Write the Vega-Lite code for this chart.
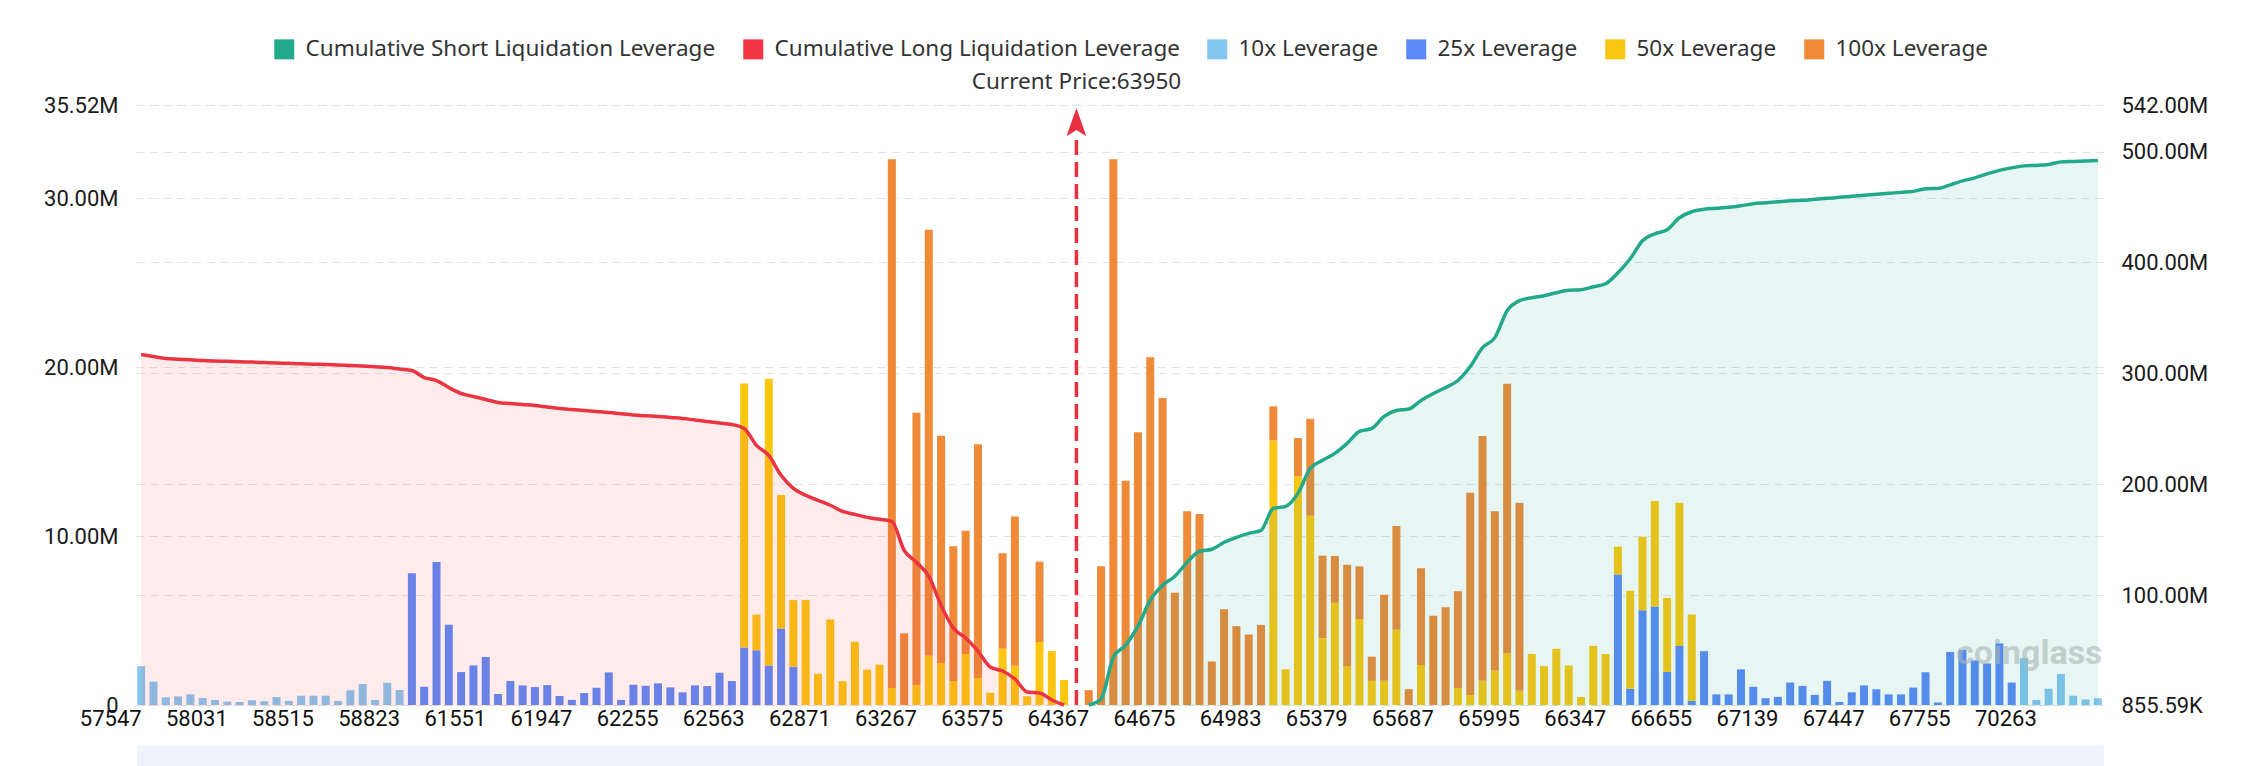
{
  "$schema": "https://vega.github.io/schema/vega-lite/v6.json",
  "width": 1969,
  "height": 600,
  "autosize": "none",
  "padding": {"left": 135, "top": 105, "right": 152, "bottom": 61},
  "background": "white",
  "config": {
    "view": {"stroke": null},
    "font": "Roboto",
    "axis": {
      "labelFont": "Roboto",
      "labelFontSize": 22,
      "labelColor": "#1a1a1a",
      "domain": false,
      "ticks": false,
      "title": null,
      "gridColor": "#e4e4e4",
      "gridDash": [8, 6],
      "gridWidth": 1.2
    }
  },
  "datasets": {
    "bars": [
      {"p":"57547","l":10,"v":2.3},{"p":"57591","l":10,"v":1.38},{"p":"57635","l":10,"v":0.45},{"p":"57723","l":10,"v":0.51},
      {"p":"57811","l":10,"v":0.63},{"p":"57899","l":10,"v":0.41},{"p":"57987","l":10,"v":0.3},{"p":"58031","l":10,"v":0.2},
      {"p":"58075","l":10,"v":0.18},{"p":"58163","l":10,"v":0.28},{"p":"58251","l":10,"v":0.22},{"p":"58339","l":10,"v":0.47},
      {"p":"58383","l":10,"v":0.24},{"p":"58471","l":10,"v":0.55},{"p":"58515","l":10,"v":0.55},{"p":"58559","l":10,"v":0.55},
      {"p":"58603","l":10,"v":0.24},{"p":"58647","l":10,"v":0.87},{"p":"58691","l":10,"v":1.24},{"p":"58735","l":10,"v":0.3},
      {"p":"58779","l":10,"v":1.32},{"p":"58823","l":10,"v":0.89},
      {"p":"58867","l":25,"v":7.8},{"p":"58999","l":25,"v":1.08},{"p":"59439","l":25,"v":8.47},{"p":"60319","l":25,"v":4.75},
      {"p":"60979","l":25,"v":1.95},{"p":"61463","l":25,"v":2.34},{"p":"61551","l":25,"v":2.84},{"p":"61595","l":25,"v":0.65},
      {"p":"61639","l":25,"v":1.42},{"p":"61727","l":25,"v":1.16},{"p":"61771","l":25,"v":1.06},{"p":"61859","l":25,"v":1.18},
      {"p":"61903","l":25,"v":0.53},{"p":"61947","l":25,"v":0.3},{"p":"61991","l":25,"v":0.71},{"p":"62035","l":25,"v":1.02},
      {"p":"62079","l":25,"v":1.93},{"p":"62123","l":25,"v":0.3},{"p":"62167","l":25,"v":1.2},{"p":"62211","l":25,"v":1.14},
      {"p":"62255","l":25,"v":1.28},{"p":"62299","l":25,"v":1.04},{"p":"62343","l":25,"v":0.75},{"p":"62387","l":25,"v":1.16},
      {"p":"62431","l":25,"v":1.12},{"p":"62475","l":25,"v":1.91},{"p":"62519","l":25,"v":1.42},
      {"p":"62563","l":25,"v":3.4},{"p":"62563","l":50,"v":15.64},
      {"p":"62607","l":25,"v":3.24},{"p":"62607","l":50,"v":2.11},
      {"p":"62651","l":25,"v":2.34},{"p":"62651","l":50,"v":16.98},
      {"p":"62695","l":25,"v":4.53},{"p":"62695","l":50,"v":7.9},
      {"p":"62739","l":25,"v":2.27},{"p":"62739","l":50,"v":3.94},
      {"p":"62783","l":50,"v":6.21},{"p":"62827","l":50,"v":1.85},{"p":"62871","l":50,"v":5.06},{"p":"62915","l":50,"v":1.41},
      {"p":"62959","l":50,"v":3.75},{"p":"63047","l":50,"v":2.09},{"p":"63135","l":50,"v":2.39},
      {"p":"63179","l":50,"v":1.01},{"p":"63179","l":100,"v":31.3},
      {"p":"63223","l":100,"v":4.24},
      {"p":"63267","l":50,"v":1.17},{"p":"63267","l":100,"v":16.13},
      {"p":"63311","l":50,"v":2.91},{"p":"63311","l":100,"v":25.23},
      {"p":"63355","l":50,"v":2.49},{"p":"63355","l":100,"v":13.45},
      {"p":"63399","l":50,"v":1.41},{"p":"63399","l":100,"v":7.99},
      {"p":"63443","l":50,"v":3.02},{"p":"63443","l":100,"v":7.3},
      {"p":"63487","l":50,"v":1.59},{"p":"63487","l":100,"v":13.84},
      {"p":"63531","l":50,"v":0.73},
      {"p":"63575","l":50,"v":3.33},{"p":"63575","l":100,"v":5.65},
      {"p":"63619","l":50,"v":2.32},{"p":"63619","l":100,"v":8.84},
      {"p":"63663","l":50,"v":0.52},
      {"p":"63707","l":50,"v":3.73},{"p":"63707","l":100,"v":4.76},
      {"p":"63751","l":50,"v":3.19},{"p":"63795","l":50,"v":1.48},
      {"p":"64367","l":100,"v":0.88},{"p":"64411","l":100,"v":8.21},{"p":"64455","l":100,"v":32.31},{"p":"64499","l":100,"v":13.27},
      {"p":"64543","l":100,"v":16.15},{"p":"64587","l":100,"v":20.59},{"p":"64631","l":100,"v":18.17},{"p":"64675","l":100,"v":6.64},
      {"p":"64719","l":100,"v":11.47},{"p":"64763","l":100,"v":11.3},{"p":"64807","l":100,"v":2.58},{"p":"64851","l":100,"v":5.67},
      {"p":"64895","l":100,"v":4.67},{"p":"64939","l":100,"v":4.17},{"p":"64983","l":100,"v":4.74},
      {"p":"65027","l":50,"v":15.66},{"p":"65027","l":100,"v":2.02},
      {"p":"65071","l":50,"v":2.11},
      {"p":"65159","l":50,"v":13.53},{"p":"65159","l":100,"v":2.27},
      {"p":"65203","l":50,"v":11.21},{"p":"65203","l":100,"v":5.74},
      {"p":"65291","l":50,"v":3.96},{"p":"65291","l":100,"v":4.88},
      {"p":"65335","l":50,"v":6.05},{"p":"65335","l":100,"v":2.77},
      {"p":"65379","l":50,"v":2.3},{"p":"65379","l":100,"v":6.0},
      {"p":"65423","l":50,"v":5.09},{"p":"65423","l":100,"v":3.12},
      {"p":"65467","l":50,"v":1.43},{"p":"65467","l":100,"v":1.43},
      {"p":"65511","l":50,"v":1.43},{"p":"65511","l":100,"v":5.09},
      {"p":"65555","l":50,"v":4.45},{"p":"65555","l":100,"v":6.15},
      {"p":"65599","l":100,"v":0.94},
      {"p":"65643","l":50,"v":2.37},{"p":"65643","l":100,"v":5.72},
      {"p":"65687","l":100,"v":5.28},{"p":"65731","l":100,"v":5.79},
      {"p":"65775","l":50,"v":1.01},{"p":"65775","l":100,"v":5.72},
      {"p":"65819","l":50,"v":0.59},{"p":"65819","l":100,"v":11.98},
      {"p":"65863","l":50,"v":1.43},{"p":"65863","l":100,"v":14.49},
      {"p":"65907","l":50,"v":2.04},{"p":"65907","l":100,"v":9.43},
      {"p":"65951","l":50,"v":3.05},{"p":"65951","l":100,"v":15.97},
      {"p":"65995","l":50,"v":0.84},{"p":"65995","l":100,"v":11.14},
      {"p":"66039","l":50,"v":3.02},{"p":"66083","l":50,"v":2.3},{"p":"66127","l":50,"v":3.33},{"p":"66215","l":50,"v":2.34},
      {"p":"66259","l":50,"v":0.47},{"p":"66303","l":50,"v":3.5},{"p":"66347","l":50,"v":3.02},
      {"p":"66391","l":25,"v":7.72},{"p":"66391","l":50,"v":1.66},
      {"p":"66435","l":25,"v":0.96},{"p":"66435","l":50,"v":5.8},
      {"p":"66479","l":25,"v":5.61},{"p":"66479","l":50,"v":4.35},
      {"p":"66523","l":25,"v":5.83},{"p":"66523","l":50,"v":6.24},
      {"p":"66567","l":25,"v":1.96},{"p":"66567","l":50,"v":4.38},
      {"p":"66611","l":25,"v":3.5},{"p":"66611","l":50,"v":8.47},
      {"p":"66655","l":25,"v":0.25},{"p":"66655","l":50,"v":5.11},
      {"p":"66699","l":25,"v":3.19},{"p":"66787","l":25,"v":0.63},{"p":"66875","l":25,"v":0.63},{"p":"66963","l":25,"v":2.11},
      {"p":"67051","l":25,"v":1.08},{"p":"67095","l":25,"v":0.4},{"p":"67139","l":25,"v":0.48},{"p":"67183","l":25,"v":1.33},
      {"p":"67227","l":25,"v":1.13},{"p":"67271","l":25,"v":0.6},{"p":"67315","l":25,"v":1.43},{"p":"67359","l":25,"v":0.18},
      {"p":"67403","l":25,"v":0.75},{"p":"67447","l":25,"v":1.16},{"p":"67491","l":25,"v":0.93},{"p":"67535","l":25,"v":0.63},
      {"p":"67579","l":25,"v":0.63},{"p":"67623","l":25,"v":1.03},{"p":"67667","l":25,"v":1.94},{"p":"67711","l":25,"v":0.15},
      {"p":"67755","l":25,"v":3.14},{"p":"67799","l":25,"v":3.27},{"p":"67843","l":25,"v":2.64},{"p":"67975","l":25,"v":2.46},
      {"p":"68415","l":25,"v":3.65},{"p":"69031","l":25,"v":1.33},
      {"p":"69691","l":10,"v":2.77},{"p":"70263","l":10,"v":0.3},{"p":"70307","l":10,"v":0.96},{"p":"70351","l":10,"v":1.84},
      {"p":"70395","l":10,"v":0.55},{"p":"70439","l":10,"v":0.33},{"p":"70483","l":10,"v":0.4}
    ],
    "longCum": [
      {"p":"57547","v":316.9},{"p":"57591","v":315.1},{"p":"57635","v":313.3},{"p":"57723","v":312.7},{"p":"57811","v":312.2},
      {"p":"57899","v":311.5},{"p":"57987","v":311.1},{"p":"58031","v":310.8},{"p":"58075","v":310.4},{"p":"58163","v":310.1},
      {"p":"58251","v":309.7},{"p":"58339","v":309.3},{"p":"58383","v":309.0},{"p":"58471","v":308.6},{"p":"58515","v":308.2},
      {"p":"58559","v":307.9},{"p":"58603","v":307.4},{"p":"58647","v":307.0},{"p":"58691","v":306.5},{"p":"58735","v":305.9},
      {"p":"58779","v":305.2},{"p":"58823","v":303.8},{"p":"58867","v":302.5},{"p":"58999","v":296.2},{"p":"59439","v":293.5},
      {"p":"60319","v":287.2},{"p":"60979","v":281.8},{"p":"61463","v":279.1},{"p":"61551","v":276.4},{"p":"61595","v":273.7},
      {"p":"61639","v":272.8},{"p":"61727","v":271.9},{"p":"61771","v":271.0},{"p":"61859","v":269.6},{"p":"61903","v":268.3},
      {"p":"61947","v":267.4},{"p":"61991","v":266.5},{"p":"62035","v":265.6},{"p":"62079","v":264.7},{"p":"62123","v":263.5},
      {"p":"62167","v":262.4},{"p":"62211","v":261.7},{"p":"62255","v":261.1},{"p":"62299","v":260.2},{"p":"62343","v":259.3},
      {"p":"62387","v":257.9},{"p":"62431","v":256.6},{"p":"62475","v":255.2},{"p":"62519","v":253.9},{"p":"62563","v":250.3},
      {"p":"62607","v":235.0},{"p":"62651","v":226.0},{"p":"62695","v":208.0},{"p":"62739","v":196.2},{"p":"62783","v":190.0},
      {"p":"62827","v":185.4},{"p":"62871","v":181.0},{"p":"62915","v":175.5},{"p":"62959","v":172.8},{"p":"63047","v":170.1},
      {"p":"63135","v":168.3},{"p":"63179","v":166.5},{"p":"63223","v":140.4},{"p":"63267","v":129.6},{"p":"63311","v":117.0},
      {"p":"63355","v":90.9},{"p":"63399","v":70.2},{"p":"63443","v":61.2},{"p":"63487","v":49.5},{"p":"63531","v":35.1},
      {"p":"63575","v":31.5},{"p":"63619","v":24.3},{"p":"63663","v":12.6},{"p":"63707","v":11.7},{"p":"63751","v":5.4},
      {"p":"63795","v":0.86}
    ],
    "shortCum": [
      {"p":"64367","v":0.86},{"p":"64411","v":6.3},{"p":"64455","v":44.1},{"p":"64499","v":54.9},{"p":"64543","v":72.0},
      {"p":"64587","v":95.4},{"p":"64631","v":108.9},{"p":"64675","v":117.0},{"p":"64719","v":129.6},{"p":"64763","v":139.5},
      {"p":"64807","v":141.3},{"p":"64851","v":147.6},{"p":"64895","v":152.1},{"p":"64939","v":155.7},{"p":"64983","v":158.4},
      {"p":"65027","v":178.2},{"p":"65071","v":180.0},{"p":"65159","v":191.7},{"p":"65203","v":214.3},{"p":"65291","v":221.5},
      {"p":"65335","v":227.8},{"p":"65379","v":236.8},{"p":"65423","v":247.6},{"p":"65467","v":250.3},{"p":"65511","v":261.1},
      {"p":"65555","v":266.5},{"p":"65599","v":267.8},{"p":"65643","v":275.5},{"p":"65687","v":281.8},{"p":"65731","v":287.2},
      {"p":"65775","v":293.5},{"p":"65819","v":306.1},{"p":"65863","v":323.2},{"p":"65907","v":332.2},{"p":"65951","v":356.5},
      {"p":"65995","v":365.5},{"p":"66039","v":368.2},{"p":"66083","v":370.0},{"p":"66127","v":372.7},{"p":"66215","v":375.0},
      {"p":"66259","v":375.4},{"p":"66303","v":378.1},{"p":"66347","v":380.8},{"p":"66391","v":390.7},{"p":"66435","v":403.3},
      {"p":"66479","v":419.6},{"p":"66523","v":425.8},{"p":"66567","v":429.5},{"p":"66611","v":440.3},{"p":"66655","v":445.7},
      {"p":"66699","v":447.9},{"p":"66787","v":448.8},{"p":"66875","v":449.7},{"p":"66963","v":451.1},{"p":"67051","v":452.9},
      {"p":"67095","v":453.8},{"p":"67139","v":454.7},{"p":"67183","v":455.6},{"p":"67227","v":456.0},{"p":"67271","v":456.9},
      {"p":"67315","v":457.8},{"p":"67359","v":458.7},{"p":"67403","v":459.6},{"p":"67447","v":460.5},{"p":"67491","v":461.4},
      {"p":"67535","v":462.3},{"p":"67579","v":463.2},{"p":"67623","v":464.1},{"p":"67667","v":466.4},{"p":"67711","v":466.8},
      {"p":"67755","v":470.0},{"p":"67799","v":473.6},{"p":"67843","v":476.3},{"p":"67975","v":479.9},{"p":"68415","v":483.0},
      {"p":"69031","v":485.3},{"p":"69691","v":487.1},{"p":"70263","v":487.5},{"p":"70307","v":488.4},{"p":"70351","v":490.7},
      {"p":"70395","v":491.1},{"p":"70439","v":491.6},{"p":"70483","v":492.0}
    ]
  },
  "layer": [
    {
      "layer": [
        {
          "data": {"values": [{}]},
          "mark": {"type": "rect", "color": "#eef2fc", "xOffset": -4, "x2Offset": 6},
          "encoding": {
            "x": {"datum": "57547", "type": "ordinal"},
            "x2": {"datum": "70483"},
            "y": {"datum": -2.4, "type": "quantitative"},
            "y2": {"datum": -3.7}
          }
        },
        {
          "data": {"name": "bars"},
          "mark": {"type": "bar", "width": 8},
          "encoding": {
            "x": {
              "field": "p",
              "type": "ordinal",
              "scale": {
                "type": "point",
                "padding": 0.5,
                "domain": ["57547","57591","57635","57723","57811","57899","57987","58031","58075","58163","58251","58339","58383","58471","58515","58559","58603","58647","58691","58735","58779","58823","58867","58999","59439","60319","60979","61463","61551","61595","61639","61727","61771","61859","61903","61947","61991","62035","62079","62123","62167","62211","62255","62299","62343","62387","62431","62475","62519","62563","62607","62651","62695","62739","62783","62827","62871","62915","62959","63047","63135","63179","63223","63267","63311","63355","63399","63443","63487","63531","63575","63619","63663","63707","63751","63795","63950","64367","64411","64455","64499","64543","64587","64631","64675","64719","64763","64807","64851","64895","64939","64983","65027","65071","65159","65203","65291","65335","65379","65423","65467","65511","65555","65599","65643","65687","65731","65775","65819","65863","65907","65951","65995","66039","66083","66127","66215","66259","66303","66347","66391","66435","66479","66523","66567","66611","66655","66699","66787","66875","66963","67051","67095","67139","67183","67227","67271","67315","67359","67403","67447","67491","67535","67579","67623","67667","67711","67755","67799","67843","67975","68415","69031","69691","70263","70307","70351","70395","70439","70483"]
              },
              "axis": {
                "values": ["57547","58031","58515","58823","61551","61947","62255","62563","62871","63267","63575","64367","64675","64983","65379","65687","65995","66347","66655","67139","67447","67755","70263"],
                "labelAngle": 0,
                "labelPadding": 13,
                "labelOverlap": false,
                "labelFlush": false,
                "labelColor": "#111111",
                "grid": false
              }
            },
            "y": {
              "field": "v",
              "type": "quantitative",
              "stack": "zero",
              "scale": {"domain": [0, 35.52], "nice": false, "zero": true},
              "axis": {
                "orient": "left",
                "values": [0, 10, 20, 30, 35.52],
                "labelExpr": "datum.value == 0 ? '0' : format(datum.value, '.2f') + 'M'",
                "labelPadding": 17,
                "grid": true
              }
            },
            "color": {
              "field": "l",
              "type": "ordinal",
              "scale": {
                "domain": ["Cumulative Short Liquidation Leverage", "Cumulative Long Liquidation Leverage", 10, 25, 50, 100],
                "range": ["#22a98b", "#f23645", "#85c6f0", "#5b8af8", "#fac612", "#ee8a38"]
              },
              "legend": {
                "orient": "none",
                "legendX": 138,
                "legendY": -67,
                "direction": "horizontal",
                "columns": 6,
                "title": null,
                "symbolType": "square",
                "symbolSize": 400,
                "symbolStrokeWidth": 0,
                "symbolOpacity": 1,
                "labelFont": "Noto Sans",
                "labelFontSize": 22.5,
                "labelColor": "#333333",
                "labelOffset": 10,
                "labelLimit": 800,
                "columnPadding": 26,
                "labelExpr": "isNumber(datum.value) ? datum.value + 'x Leverage' : datum.label"
              }
            },
            "order": {"field": "l", "type": "quantitative"}
          }
        },
        {
          "data": {"values": [{}]},
          "mark": {"type": "rule", "color": "#e8303f", "strokeWidth": 3.5, "strokeDash": [15, 7]},
          "encoding": {
            "x": {"datum": "63950", "type": "ordinal"},
            "y": {"datum": 0, "type": "quantitative"},
            "y2": {"datum": 33.6}
          }
        },
        {
          "data": {"values": [{}]},
          "mark": {"type": "point", "shape": "M0,-1L0.7,1L0,0.55L-0.7,1Z", "filled": true, "color": "#e8303f", "opacity": 1, "size": 800},
          "encoding": {
            "x": {"datum": "63950", "type": "ordinal"},
            "y": {"datum": 34.5, "type": "quantitative"}
          }
        },
        {
          "data": {"values": [{}]},
          "mark": {"type": "text", "fontSize": 22.5, "color": "#333333", "dy": -23, "baseline": "middle", "font": "Noto Sans"},
          "encoding": {
            "x": {"datum": "63950", "type": "ordinal"},
            "y": {"datum": 35.52, "type": "quantitative"},
            "text": {"value": "Current Price:63950"}
          }
        },
        {
          "data": {"values": [{}]},
          "mark": {"type": "text", "fontSize": 34, "fontWeight": "bold", "color": "#b8b8b8", "opacity": 0.6, "dx": -7, "baseline": "middle", "font": "Roboto"},
          "encoding": {
            "x": {"datum": "70263", "type": "ordinal"},
            "y": {"datum": 3.0, "type": "quantitative"},
            "text": {"value": "coinglass"}
          }
        }
      ]
    },
    {
      "layer": [
        {
          "data": {"name": "longCum"},
          "mark": {"type": "area", "color": "#f23645", "opacity": 0.1, "interpolate": "monotone"},
          "encoding": {
            "x": {"field": "p", "type": "ordinal"},
            "y": {
              "field": "v",
              "type": "quantitative",
              "scale": {"domain": [0.85559, 542], "nice": false, "zero": false},
              "axis": {
                "orient": "right",
                "values": [0.85559, 100, 200, 300, 400, 500, 542],
                "labelExpr": "datum.value < 1 ? '855.59K' : format(datum.value, '.2f') + 'M'",
                "labelPadding": 17,
                "grid": true
              }
            }
          }
        },
        {
          "data": {"name": "shortCum"},
          "mark": {"type": "area", "color": "#22a98b", "opacity": 0.1, "interpolate": "monotone"},
          "encoding": {
            "x": {"field": "p", "type": "ordinal"},
            "y": {"field": "v", "type": "quantitative"}
          }
        },
        {
          "data": {"name": "longCum"},
          "mark": {"type": "line", "color": "#ea3441", "strokeWidth": 3.5, "interpolate": "monotone"},
          "encoding": {
            "x": {"field": "p", "type": "ordinal"},
            "y": {"field": "v", "type": "quantitative"}
          }
        },
        {
          "data": {"name": "shortCum"},
          "mark": {"type": "line", "color": "#22a98b", "strokeWidth": 3.5, "interpolate": "monotone"},
          "encoding": {
            "x": {"field": "p", "type": "ordinal"},
            "y": {"field": "v", "type": "quantitative"}
          }
        }
      ]
    }
  ],
  "resolve": {"scale": {"y": "independent"}}
}
